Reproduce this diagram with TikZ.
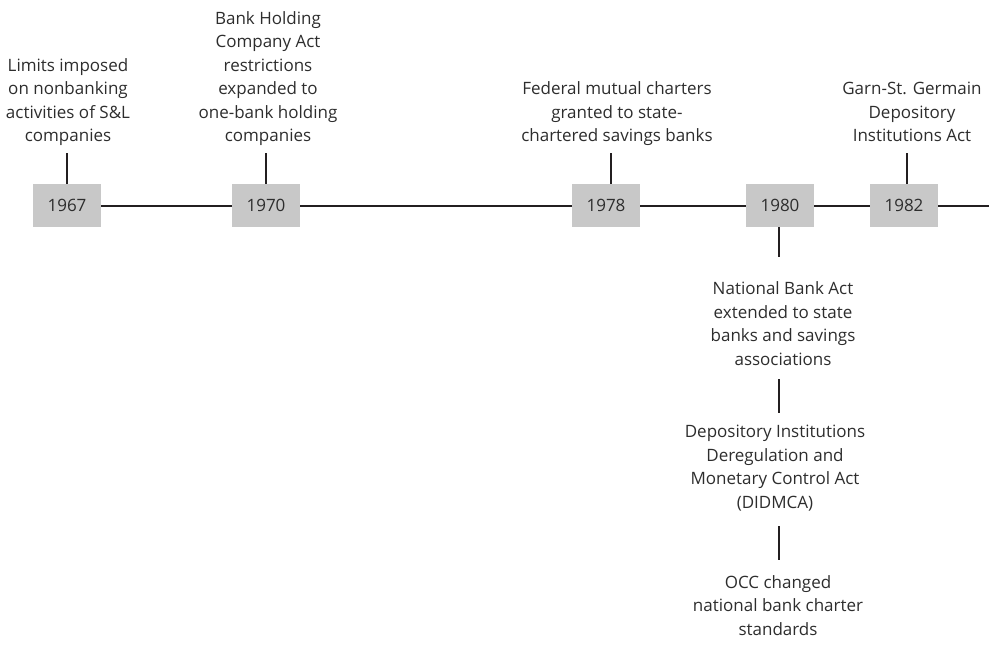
\documentclass[tikz,border=0pt]{standalone}
\usepackage{fontspec}
\setmainfont{Open Sans}
\definecolor{boxgray}{RGB}{200,200,200}
\definecolor{txt}{RGB}{45,45,45}
\definecolor{ln}{RGB}{35,31,32}
\begin{document}
\begin{tikzpicture}[x=1pt,y=-1pt,
  yearbox/.style={fill=boxgray,minimum width=68pt,minimum height=43pt,inner sep=0pt,
    text=txt,font=\fontsize{17}{23.5}\selectfont},
  toplabel/.style={anchor=south,align=center,inner sep=0pt,text depth=0pt,text=txt,
    font=\fontsize{17}{23.5}\selectfont},
  botlabel/.style={anchor=north,align=center,inner sep=0pt,text=txt,
    font=\fontsize{17}{23.5}\selectfont},
  conn/.style={draw=ln,line width=2pt}]
\useasboundingbox (0,0) rectangle (989,649);
% year boxes
\node[yearbox] (b67) at (67,205.5) {1967};
\node[yearbox] (b70) at (266,205.5) {1970};
\node[yearbox] (b78) at (606,205.5) {1978};
\node[yearbox] (b80) at (780,205.5) {1980};
\node[yearbox] (b82) at (904,205.5) {1982};
\coordinate (rend) at (989,205.5);
% timeline
\draw[conn] (b67.east) -- (b70.west);
\draw[conn] (b70.east) -- (b78.west);
\draw[conn] (b78.east) -- (b80.west);
\draw[conn] (b80.east) -- (b82.west);
\draw[conn] (b82.east) -- (rend);
% top labels
\node[toplabel] (l67) at (68,142) {Limits imposed\\on nonbanking\\activities of S\&L\\companies};
\node[toplabel] (l70) at (268,142) {Bank Holding\\Company Act\\restrictions\\expanded to\\one-bank holding\\companies};
\node[toplabel] (l78) at (617,142) {Federal mutual charters\\granted to state-\\chartered savings banks};
\node[toplabel] (l82) at (912,142) {Garn-St. Germain\\Depository\\Institutions Act};
% top ticks
\coordinate (t67) at (67,153);
\coordinate (t70) at (266,153);
\coordinate (t78) at (611,153);
\coordinate (t82) at (907,153);
\draw[conn] (t67) -- (t67 |- b67.north);
\draw[conn] (t70) -- (t70 |- b70.north);
\draw[conn] (t78) -- (t78 |- b78.north);
\draw[conn] (t82) -- (t82 |- b82.north);
% bottom labels
\node[botlabel] (n1) at (783,281.5) {National Bank Act\\extended to state\\banks and savings\\associations};
\node[botlabel] (n2) at (775,425) {Depository Institutions\\Deregulation and\\Monetary Control Act\\(DIDMCA)};
\node[botlabel] (n3) at (778,575) {OCC changed\\national bank charter\\standards};
% bottom ticks
\coordinate (u1) at (779,257);
\coordinate (u2a) at (779,379);
\coordinate (u2b) at (779,413);
\coordinate (u3a) at (779,526);
\coordinate (u3b) at (779,560);
\draw[conn] (u1 |- b80.south) -- (u1);
\draw[conn] (u2a) -- (u2b);
\draw[conn] (u3a) -- (u3b);
\end{tikzpicture}
\end{document}
